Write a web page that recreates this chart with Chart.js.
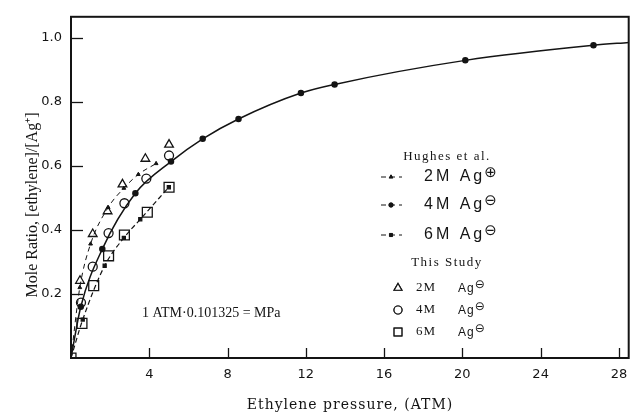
<!DOCTYPE html>
<html>
<head>
<meta charset="utf-8">
<script src="https://cdn.jsdelivr.net/npm/chart.js@4.4.1/dist/chart.umd.min.js"></script>
<style>
  html, body { margin: 0; padding: 0; background: #fff; }
  #wrap { width: 637px; height: 414px; }
</style>
</head>
<body>
<div id="wrap"><canvas id="chart" width="637" height="414"></canvas></div>
<script>
  // Hughes et al. (lines)
  const hughes2mX = [0, 0.45, 1.0, 1.9, 2.7, 3.44, 4.35];
  const hughes2mY = [0, 0.22, 0.356, 0.47, 0.53, 0.573, 0.607];
  const hughes4mX = [0, 0.5, 1.6, 3.29, 5.11, 6.73, 8.56, 11.75, 13.47, 20.15, 26.7, 28.5];
  const hughes4mY = [0, 0.16, 0.34, 0.514, 0.613, 0.684, 0.746, 0.827, 0.854, 0.929, 0.976, 0.985];
  const hughes6mX = [0, 0.6, 1.72, 2.7, 3.54, 5.0];
  const hughes6mY = [0, 0.12, 0.288, 0.375, 0.433, 0.533];

  // This study (open markers)
  const study2mX = [0.46, 1.11, 1.87, 2.63, 3.80, 5.01];
  const study2mY = [0.241, 0.387, 0.458, 0.542, 0.622, 0.666];
  const study4mX = [0.51, 1.11, 1.92, 2.73, 3.85, 5.01];
  const study4mY = [0.173, 0.285, 0.390, 0.483, 0.560, 0.632];
  const study6mX = [0, 0.56, 1.16, 1.92, 2.73, 3.90, 5.01];
  const study6mY = [0, 0.108, 0.226, 0.319, 0.384, 0.455, 0.533];

  const xTicks = [4, 8, 12, 16, 20, 24, 28];
  const yTicks = [0.2, 0.4, 0.6, 0.8, 1.0];
  const yTickLabels = ['0.2', '0.4', '0.6', '0.8', '1.0'];

  const xTitle = 'Ethylene pressure, (ATM)';
  const yTitle = 'Mole Ratio, [ethylene]/[Ag\u207A]';
  const note = '1 ATM\u00B70.101325 = MPa';

  function pts(xs, ys) {
    return xs.map((x, i) => ({ x: x, y: ys[i] }));
  }

  const ink = '#141414';

  // frame, inward ticks, titles, note and the hand-made legend
  const decor = {
    id: 'decor',
    afterDraw(chart) {
      const ctx = chart.ctx;
      const a = chart.chartArea;
      const xs = chart.scales.x;
      const ys = chart.scales.y;
      ctx.save();
      ctx.strokeStyle = ink;
      ctx.lineWidth = 2;
      ctx.strokeRect(a.left, a.top, a.right - a.left, a.bottom - a.top);

      ctx.lineWidth = 1.3;
      xTicks.forEach(v => {
        const px = Math.round(xs.getPixelForValue(v)) + 0.5;
        ctx.beginPath();
        ctx.moveTo(px, a.bottom);
        ctx.lineTo(px, a.bottom - 10);
        ctx.stroke();
      });
      yTicks.forEach(v => {
        const py = Math.round(ys.getPixelForValue(v)) + 0.5;
        ctx.beginPath();
        ctx.moveTo(a.left, py);
        ctx.lineTo(a.left + 12, py);
        ctx.stroke();
      });

      ctx.fillStyle = ink;
      ctx.textBaseline = 'middle';

      // axis titles
      ctx.font = '14px "DejaVu Serif"';
      ctx.textAlign = 'center';
      ctx.letterSpacing = '1px';
      ctx.fillText(xTitle, 350, 405);
      ctx.letterSpacing = '0px';

      ctx.save();
      ctx.translate(33, 205);
      ctx.rotate(-Math.PI / 2);
      ctx.font = '16px "Liberation Serif"';
      ctx.fillText(yTitle, 0, 0);
      ctx.restore();

      // conversion note
      ctx.font = '14px "Liberation Serif"';
      ctx.textAlign = 'left';
      ctx.fillText(note, 142, 313);

      // legend
      const lx = 447;
      ctx.textAlign = 'center';
      ctx.font = '13px "Liberation Serif"';
      ctx.letterSpacing = '1.5px';
      ctx.fillText('Hughes et al.', lx, 157);
      ctx.fillText('This Study', lx, 263);

      const hughesRows = [
        { y: 177, label: '2M', sign: '\u2295', style: 'triangle' },
        { y: 205, label: '4M', sign: '\u2296', style: 'circle' },
        { y: 235, label: '6M', sign: '\u2296', style: 'rect' }
      ];
      hughesRows.forEach(r => {
        ctx.setLineDash([5, 4]);
        ctx.lineWidth = 1;
        ctx.beginPath();
        ctx.moveTo(381, r.y);
        ctx.lineTo(402, r.y);
        ctx.stroke();
        ctx.setLineDash([]);
        Chart.helpers.drawPoint(ctx, { pointStyle: r.style, radius: 2.2, borderWidth: 1 }, 391, r.y);
        ctx.fill();
        ctx.textAlign = 'left';
        ctx.font = '16px "Liberation Sans"';
        ctx.letterSpacing = '3px';
        const txt = r.label + ' Ag';
        ctx.fillText(txt, 424, r.y);
        const w = ctx.measureText(txt).width;
        ctx.font = '15px "DejaVu Sans"';
        ctx.letterSpacing = '0px';
        ctx.fillText(r.sign, 424 + w - 1, r.y - 4);
      });

      const studyRows = [
        { y: 288, label: '2M', style: 'triangle', r: 4.5 },
        { y: 310, label: '4M', style: 'circle', r: 4 },
        { y: 332, label: '6M', style: 'rect', r: 5.5 }
      ];
      studyRows.forEach(r => {
        ctx.fillStyle = '#fff';
        ctx.lineWidth = 1.2;
        Chart.helpers.drawPoint(ctx, { pointStyle: r.style, radius: r.r, borderWidth: 1.2 }, 398, r.y);
        ctx.fill();
        ctx.stroke();
        ctx.fillStyle = ink;
        ctx.textAlign = 'left';
        ctx.font = '13px "Liberation Serif"';
        ctx.letterSpacing = '1px';
        ctx.fillText(r.label, 416, r.y);
        ctx.font = '12px "Liberation Sans"';
        ctx.fillText('Ag', 458, r.y + 1);
        const w = ctx.measureText('Ag').width;
        ctx.font = '12px "DejaVu Sans"';
        ctx.letterSpacing = '0px';
        ctx.fillText('\u2296', 458 + w, r.y - 3);
      });
      ctx.restore();
    }
  };

  const ctx = document.getElementById('chart').getContext('2d');
  new Chart(ctx, {
    type: 'scatter',
    data: {
      datasets: [
        {
          label: 'Hughes 2M',
          data: pts(hughes2mX, hughes2mY),
          showLine: true,
          cubicInterpolationMode: 'monotone',
          borderColor: ink,
          backgroundColor: ink,
          borderWidth: 1,
          borderDash: [5, 4],
          pointStyle: 'triangle',
          pointRadius: c => (c.dataIndex === 0 ? 0 : 2.2)
        },
        {
          label: 'Hughes 4M',
          data: pts(hughes4mX, hughes4mY),
          showLine: true,
          cubicInterpolationMode: 'monotone',
          borderColor: ink,
          backgroundColor: ink,
          borderWidth: 1.5,
          pointRadius: c => (c.raw.x > 28 || c.raw.x === 0 ? 0 : 2.5)
        },
        {
          label: 'Hughes 6M',
          data: pts(hughes6mX, hughes6mY),
          showLine: true,
          cubicInterpolationMode: 'monotone',
          borderColor: ink,
          backgroundColor: ink,
          borderWidth: 1.2,
          borderDash: [5, 3],
          pointStyle: 'rect',
          pointRadius: c => (c.dataIndex === 0 ? 0 : 2.2)
        },
        {
          label: 'Study 2M',
          data: pts(study2mX, study2mY),
          showLine: false,
          borderColor: ink,
          backgroundColor: '#fff',
          borderWidth: 1.3,
          pointStyle: 'triangle',
          pointRadius: 5
        },
        {
          label: 'Study 4M',
          data: pts(study4mX, study4mY),
          showLine: false,
          borderColor: ink,
          backgroundColor: '#fff',
          borderWidth: 1.3,
          pointStyle: 'circle',
          pointRadius: 4.5
        },
        {
          label: 'Study 6M',
          data: pts(study6mX, study6mY),
          showLine: false,
          borderColor: ink,
          backgroundColor: '#fff',
          borderWidth: 1.3,
          pointStyle: 'rect',
          pointRadius: 7
        }
      ]
    },
    options: {
      responsive: false,
      animation: false,
      layout: { padding: { top: 14, right: 3, left: 0, bottom: 0 } },
      plugins: {
        legend: { display: false },
        tooltip: { enabled: false }
      },
      scales: {
        x: {
          type: 'linear',
          min: 0,
          max: 28.5,
          afterFit: s => { s.height = 56; },
          afterBuildTicks: s => { s.ticks = xTicks.map(v => ({ value: v })); },
          grid: { display: false, drawTicks: false },
          border: { display: false },
          ticks: {
            color: ink,
            padding: 9,
            maxRotation: 0,
            font: { family: '"DejaVu Sans"', size: 13 }
          }
        },
        y: {
          type: 'linear',
          min: 0,
          max: 1.065,
          afterFit: s => { s.width = 71; },
          afterBuildTicks: s => { s.ticks = yTicks.map(v => ({ value: v })); },
          grid: { display: false, drawTicks: false },
          border: { display: false },
          ticks: {
            color: ink,
            padding: 9,
            font: { family: '"DejaVu Sans"', size: 13 },
            callback: v => {
              const i = yTicks.findIndex(t => Math.abs(t - v) < 1e-6);
              return i < 0 ? '' : yTickLabels[i];
            }
          }
        }
      }
    },
    plugins: [decor]
  });
</script>
</body>
</html>
